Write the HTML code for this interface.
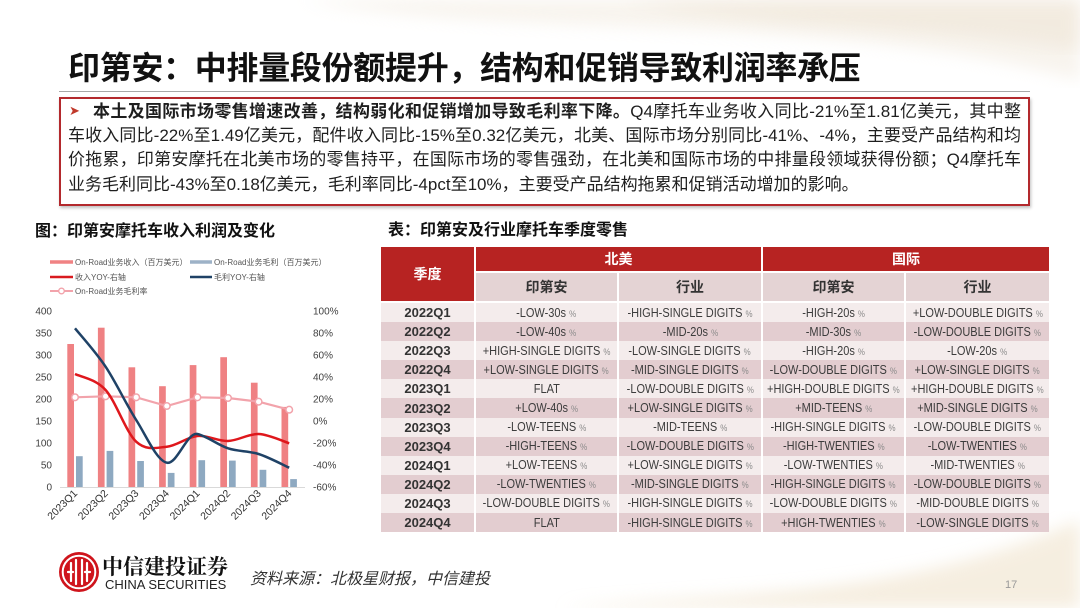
<!DOCTYPE html>
<html><head><meta charset="utf-8">
<style>
*{margin:0;padding:0;box-sizing:border-box}
html,body{width:1080px;height:608px;overflow:hidden;background:#fff}
body{position:relative;font-family:"Liberation Sans","Noto Sans CJK SC",sans-serif;color:#222}
.abs{position:absolute}
.title{left:68px;top:48px;font-size:32px;font-weight:bold;line-height:40px;color:#111;white-space:nowrap;letter-spacing:-0.3px}
.hr{left:59px;top:91px;width:971px;height:1px;background:#a8a8a8}
.box{left:59px;top:97px;width:971px;height:109px;border:2px solid #b3292d;box-shadow:1px 2px 3px rgba(0,0,0,.25);background:#fff}
.ln{position:absolute;font-size:17px;line-height:24px;white-space:nowrap;color:#1e1e1e}
.j{text-align:justify;text-align-last:justify}
.h2{font-size:16px;font-weight:bold;line-height:20px;color:#111;white-space:nowrap}
.grid{position:absolute;left:381px;top:247px;width:668px;display:grid;grid-template-columns:93px 141px 142px 141px 143px;column-gap:2px;grid-template-rows:26px 30px repeat(12,19.1px);background:#fff}
.grid>div{display:flex;align-items:center;justify-content:center;white-space:nowrap;overflow:visible}
.hr1{background:#b72322;color:#fff;font-weight:bold;font-size:14px;border-bottom:2px solid #fff}
.hr2{background:#e4d3d4;color:#333;font-weight:bold;font-size:14px;border-bottom:2px solid #fff}
.a{background:#f4ecec}
.b{background:#e3cdd0}
.lab{font-weight:bold;font-size:13px;color:#333}
.v{display:inline-block;transform:scaleX(.88);font-size:12.5px;color:#3c3c3c}
.v i{font-style:normal;font-size:9px;color:#8a8a8a}
</style></head><body>

<svg class="abs" style="left:0;top:0" width="1080" height="608">
<defs><filter id="bl"><feGaussianBlur stdDeviation="8"/></filter></defs>
<path d="M300,0 C520,40 820,10 1080,80 L1080,0 Z" fill="#efe6d8" opacity=".45" filter="url(#bl)"/>
<path d="M620,0 C760,30 930,25 1080,50 L1080,0 Z" fill="#e9dcc7" opacity=".35" filter="url(#bl)"/>
<path d="M560,608 C720,592 900,600 1080,520 L1080,608 Z" fill="#f0e3cc" opacity=".6" filter="url(#bl)"/>
</svg>

<div class="abs title">印第安：中排量段份额提升，结构和促销导致利润率承压</div>
<div class="abs hr"></div>
<div class="abs box"></div>
<div class="abs" style="left:69px;top:101px;font-size:13px;line-height:22px;color:#c0392b;font-family:'DejaVu Sans',sans-serif">➤</div>
<div class="ln j" style="left:93px;top:100px;width:928px"><b>本土及国际市场零售增速改善，结构弱化和促销增加导致毛利率下降。</b>Q4摩托车业务收入同比-21%至1.81亿美元，其中整</div>
<div class="ln j" style="left:68px;top:124px;width:953px">车收入同比-22%至1.49亿美元，配件收入同比-15%至0.32亿美元，北美、国际市场分别同比-41%、-4%，主要受产品结构和均</div>
<div class="ln j" style="left:68px;top:148px;width:953px">价拖累，印第安摩托在北美市场的零售持平，在国际市场的零售强劲，在北美和国际市场的中排量段领域获得份额；Q4摩托车</div>
<div class="ln" style="left:68px;top:173px">业务毛利同比-43%至0.18亿美元，毛利率同比-4pct至10%，主要受产品结构拖累和促销活动增加的影响。</div>

<div class="abs h2" style="left:35px;top:222px">图：印第安摩托车收入利润及变化</div>
<div class="abs h2" style="left:388px;top:221px">表：印第安及行业摩托车季度零售</div>

<svg class="abs" style="left:0;top:0" width="380" height="545" font-family="Liberation Sans, Noto Sans CJK SC, sans-serif">
<g font-size="8" fill="#555">
<line x1="50" y1="262" x2="73" y2="262" stroke="#f08283" stroke-width="3.5"/>
<text x="75" y="265">On-Road业务收入（百万美元）</text>
<line x1="190" y1="262" x2="212" y2="262" stroke="#9db2c7" stroke-width="3.5"/>
<text x="214" y="265">On-Road业务毛利（百万美元）</text>
<line x1="50" y1="277" x2="73" y2="277" stroke="#d91a1f" stroke-width="2.5"/>
<text x="75" y="280">收入YOY-右轴</text>
<line x1="190" y1="277" x2="212" y2="277" stroke="#1f4266" stroke-width="2.5"/>
<text x="214" y="280">毛利YOY-右轴</text>
<line x1="50" y1="291" x2="73" y2="291" stroke="#f2a3ab" stroke-width="2"/>
<circle cx="61.5" cy="291" r="2.8" fill="#fff" stroke="#f2a3ab" stroke-width="1.3"/>
<text x="75" y="294">On-Road业务毛利率</text>
</g>
<g font-size="10" fill="#404040" text-anchor="end">
<text x="52" y="314.5">400</text><text x="52" y="336.5">350</text><text x="52" y="358.5">300</text>
<text x="52" y="380.5">250</text><text x="52" y="402.5">200</text><text x="52" y="424.5">150</text>
<text x="52" y="446.5">100</text><text x="52" y="468.5">50</text><text x="52" y="490.5">0</text>
</g>
<g font-size="10" fill="#404040">
<text x="313" y="314.5">100%</text><text x="313" y="336.5">80%</text><text x="313" y="358.5">60%</text>
<text x="313" y="380.5">40%</text><text x="313" y="402.5">20%</text><text x="313" y="424.5">0%</text>
<text x="313" y="446.5">-20%</text><text x="313" y="468.5">-40%</text><text x="313" y="490.5">-60%</text>
</g>
<line x1="60" y1="487.5" x2="305" y2="487.5" stroke="#d9d9d9" stroke-width="1"/>
<g fill="#ef8183">
<rect x="67.3" y="344" width="6.7" height="143"/>
<rect x="97.9" y="327.7" width="6.7" height="159.3"/>
<rect x="128.5" y="367.3" width="6.7" height="119.7"/>
<rect x="159.1" y="386.2" width="6.7" height="100.8"/>
<rect x="189.7" y="365.1" width="6.7" height="121.9"/>
<rect x="220.3" y="357.2" width="6.7" height="129.8"/>
<rect x="250.9" y="382.7" width="6.7" height="104.3"/>
<rect x="281.5" y="406.9" width="6.7" height="80.1"/>
</g>
<g fill="#8ea9c1">
<rect x="76" y="456.2" width="6.7" height="30.8"/>
<rect x="106.6" y="450.9" width="6.7" height="36.1"/>
<rect x="137.2" y="461" width="6.7" height="26"/>
<rect x="167.8" y="472.9" width="6.7" height="14.1"/>
<rect x="198.4" y="460.2" width="6.7" height="26.8"/>
<rect x="229" y="460.6" width="6.7" height="26.4"/>
<rect x="259.6" y="469.8" width="6.7" height="17.2"/>
<rect x="290.2" y="479.1" width="6.7" height="7.9"/>
</g>
<polyline points="75,397.3 105.6,396.3 136.2,397.3 166.8,406 197.4,397.3 228,398 258.6,401.7 289.2,409.7" fill="none" stroke="#f2a3ab" stroke-width="2.2"/>
<g fill="#fff" stroke="#f2a3ab" stroke-width="1.5">
<circle cx="75" cy="397.3" r="3.3"/><circle cx="105.6" cy="396.3" r="3.3"/><circle cx="136.2" cy="397.3" r="3.3"/><circle cx="166.8" cy="406" r="3.3"/>
<circle cx="197.4" cy="397.3" r="3.3"/><circle cx="228" cy="398" r="3.3"/><circle cx="258.6" cy="401.7" r="3.3"/><circle cx="289.2" cy="409.7" r="3.3"/>
</g>
<path d="M75,374 C80.1,376.67 95.4,378.72 105.6,390 C115.8,401.28 126,432.25 136.2,441.7 C146.4,451.15 156.6,447.65 166.8,446.7 C177,445.75 187.2,436.95 197.4,436 C207.6,435.05 217.8,441.33 228,441 C238.2,440.67 248.4,433.62 258.6,434 C268.8,434.38 284.1,441.75 289.2,443.3" fill="none" stroke="#df171c" stroke-width="2.5"/>
<path d="M75,328.3 C80.1,334.7 95.4,351.42 105.6,366.7 C115.8,381.98 126,404 136.2,420 C146.4,436 156.6,460.37 166.8,462.7 C177,465.03 187.2,431.6 197.4,434 C207.6,436.4 217.8,444.97 228,448.3 C238.2,451.63 248.4,450.77 258.6,454 C268.8,457.23 284.1,465.42 289.2,467.7" fill="none" stroke="#1f4266" stroke-width="2.5"/>
<g font-size="10.5" fill="#333" text-anchor="end">
<text transform="translate(78,494) rotate(-45)">2023Q1</text>
<text transform="translate(108.6,494) rotate(-45)">2023Q2</text>
<text transform="translate(139.2,494) rotate(-45)">2023Q3</text>
<text transform="translate(169.8,494) rotate(-45)">2023Q4</text>
<text transform="translate(200.4,494) rotate(-45)">2024Q1</text>
<text transform="translate(231,494) rotate(-45)">2024Q2</text>
<text transform="translate(261.6,494) rotate(-45)">2024Q3</text>
<text transform="translate(292.2,494) rotate(-45)">2024Q4</text>
</g>
</svg>

<div class="grid">
<div class="hr1" style="grid-row:1/span 2;grid-column:1;border-bottom:2px solid #fff">季度</div>
<div class="hr1" style="grid-column:2/span 2">北美</div>
<div class="hr1" style="grid-column:4/span 2">国际</div>
<div class="hr2" style="grid-column:2">印第安</div>
<div class="hr2" style="grid-column:3">行业</div>
<div class="hr2" style="grid-column:4">印第安</div>
<div class="hr2" style="grid-column:5">行业</div>

<div class="a lab">2022Q1</div><div class="a"><span class="v">-LOW-30s <i>%</i></span></div><div class="a"><span class="v">-HIGH-SINGLE DIGITS <i>%</i></span></div><div class="a"><span class="v">-HIGH-20s <i>%</i></span></div><div class="a"><span class="v">+LOW-DOUBLE DIGITS <i>%</i></span></div>
<div class="b lab">2022Q2</div><div class="b"><span class="v">-LOW-40s <i>%</i></span></div><div class="b"><span class="v">-MID-20s <i>%</i></span></div><div class="b"><span class="v">-MID-30s <i>%</i></span></div><div class="b"><span class="v">-LOW-DOUBLE DIGITS <i>%</i></span></div>
<div class="a lab">2022Q3</div><div class="a"><span class="v">+HIGH-SINGLE DIGITS <i>%</i></span></div><div class="a"><span class="v">-LOW-SINGLE DIGITS <i>%</i></span></div><div class="a"><span class="v">-HIGH-20s <i>%</i></span></div><div class="a"><span class="v">-LOW-20s <i>%</i></span></div>
<div class="b lab">2022Q4</div><div class="b"><span class="v">+LOW-SINGLE DIGITS <i>%</i></span></div><div class="b"><span class="v">-MID-SINGLE DIGITS <i>%</i></span></div><div class="b"><span class="v">-LOW-DOUBLE DIGITS <i>%</i></span></div><div class="b"><span class="v">+LOW-SINGLE DIGITS <i>%</i></span></div>
<div class="a lab">2023Q1</div><div class="a"><span class="v">FLAT</span></div><div class="a"><span class="v">-LOW-DOUBLE DIGITS <i>%</i></span></div><div class="a"><span class="v">+HIGH-DOUBLE DIGITS <i>%</i></span></div><div class="a"><span class="v">+HIGH-DOUBLE DIGITS <i>%</i></span></div>
<div class="b lab">2023Q2</div><div class="b"><span class="v">+LOW-40s <i>%</i></span></div><div class="b"><span class="v">+LOW-SINGLE DIGITS <i>%</i></span></div><div class="b"><span class="v">+MID-TEENS <i>%</i></span></div><div class="b"><span class="v">+MID-SINGLE DIGITS <i>%</i></span></div>
<div class="a lab">2023Q3</div><div class="a"><span class="v">-LOW-TEENS <i>%</i></span></div><div class="a"><span class="v">-MID-TEENS <i>%</i></span></div><div class="a"><span class="v">-HIGH-SINGLE DIGITS <i>%</i></span></div><div class="a"><span class="v">-LOW-DOUBLE DIGITS <i>%</i></span></div>
<div class="b lab">2023Q4</div><div class="b"><span class="v">-HIGH-TEENS <i>%</i></span></div><div class="b"><span class="v">-LOW-DOUBLE DIGITS <i>%</i></span></div><div class="b"><span class="v">-HIGH-TWENTIES <i>%</i></span></div><div class="b"><span class="v">-LOW-TWENTIES <i>%</i></span></div>
<div class="a lab">2024Q1</div><div class="a"><span class="v">+LOW-TEENS <i>%</i></span></div><div class="a"><span class="v">+LOW-SINGLE DIGITS <i>%</i></span></div><div class="a"><span class="v">-LOW-TWENTIES <i>%</i></span></div><div class="a"><span class="v">-MID-TWENTIES <i>%</i></span></div>
<div class="b lab">2024Q2</div><div class="b"><span class="v">-LOW-TWENTIES <i>%</i></span></div><div class="b"><span class="v">-MID-SINGLE DIGITS <i>%</i></span></div><div class="b"><span class="v">-HIGH-SINGLE DIGITS <i>%</i></span></div><div class="b"><span class="v">-LOW-DOUBLE DIGITS <i>%</i></span></div>
<div class="a lab">2024Q3</div><div class="a"><span class="v">-LOW-DOUBLE DIGITS <i>%</i></span></div><div class="a"><span class="v">-HIGH-SINGLE DIGITS <i>%</i></span></div><div class="a"><span class="v">-LOW-DOUBLE DIGITS <i>%</i></span></div><div class="a"><span class="v">-MID-DOUBLE DIGITS <i>%</i></span></div>
<div class="b lab">2024Q4</div><div class="b"><span class="v">FLAT</span></div><div class="b"><span class="v">-HIGH-SINGLE DIGITS <i>%</i></span></div><div class="b"><span class="v">+HIGH-TWENTIES <i>%</i></span></div><div class="b"><span class="v">-LOW-SINGLE DIGITS <i>%</i></span></div>
</div>

<svg class="abs" style="left:55px;top:548px" width="48" height="48">
<circle cx="24" cy="24" r="20" fill="#cf141c"/>
<circle cx="24" cy="24" r="16.3" fill="none" stroke="#fff" stroke-width="2"/>
<g stroke="#fff" stroke-width="2.2" stroke-linecap="round" fill="none">
<path d="M16,15 L16,33"/><path d="M32,15 L32,33"/>
<path d="M21,12 L21,36"/><path d="M27,12 L27,36"/>
<path d="M13,24 L18,24"/><path d="M30,24 L35,24"/>
</g>
</svg>
<div class="abs" style="left:102px;top:553px;font-family:'Noto Serif CJK SC','Noto Sans CJK SC',serif;font-weight:bold;font-size:21px;line-height:26px;color:#111;white-space:nowrap">中信建投证券</div>
<div class="abs" style="left:105px;top:577px;font-size:13px;line-height:16px;color:#222;white-space:nowrap">CHINA SECURITIES</div>
<div class="abs" style="left:250px;top:570px;font-size:16px;line-height:20px;font-style:italic;color:#333;white-space:nowrap">资料来源：北极星财报，中信建投</div>
<div class="abs" style="left:1005px;top:578px;font-size:11px;line-height:14px;color:#999">17</div>
</body></html>
